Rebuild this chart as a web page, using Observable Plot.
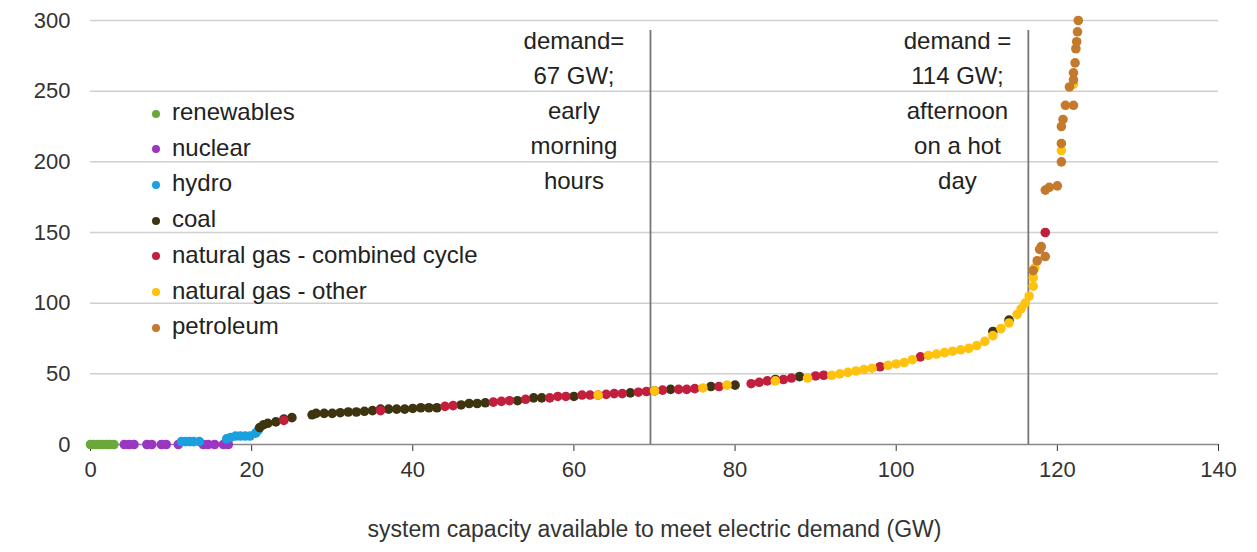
<!DOCTYPE html>
<html><head><meta charset="utf-8">
<script src="https://cdn.jsdelivr.net/npm/d3@7"></script>
<script src="https://cdn.jsdelivr.net/npm/@observablehq/plot@0.6"></script>
<style>
body{margin:0;background:#fff;font-family:"Liberation Sans",Arial,sans-serif}
#wrap{position:relative;width:1257px;height:552px}
#legend{position:absolute;left:152px;top:94px;font-size:24px;color:#222;line-height:35.7px}
#legend span.d{display:inline-block;width:8px;height:8px;border-radius:4px;margin-right:12px;vertical-align:middle}
</style></head>
<body><div id="wrap"><div id="chart"></div><div id="legend"></div></div>
<script>
const fuels = ['renewables','nuclear','hydro','coal','natural gas - combined cycle','natural gas - other','petroleum']
const colors = ['#6aa83c','#9a36c2','#1aa0dc','#3e3410','#c21f3e','#ffc20e','#c47a2c']

const renewables = [[0,0],[0.4,0],[0.8,0],[1.2,0],[1.6,0],[2,0],[2.4,0],[2.9,0]]
const nuclear = [[4.2,0],[4.8,0],[5.4,0],[7,0],[7.6,0],[8.8,0],[9.4,0],[10.9,0],[14,0],[14.6,0],[15.4,0],[16.5,0],[17.1,0]]
const hydro = [[11.3,2],[11.8,2],[12.3,2],[12.8,2],[13.5,2],[16.9,4],[17.4,5],[18,6],[18.6,6],[19.2,6],[19.8,6],[20.5,8],[20.8,10]]
const coal = [[21,12],[21.5,14],[22,15],[23,16],[24,18],[25,19],[27.5,21],[28,22],[29,22],[30,22],[31,22.5],[32,23],[33,23],[34,23.5],[35,24],[36,25],[37,25],[38,25],[39,25],[40,25.5],[41,26],[42,26],[43,26],[46,28],[47,29],[48,29],[49,29.5],[53,31],[55,33],[56,33],[60,34],[67,36.5],[70,38],[72,39],[77,41],[80,42],[85,46],[88,48],[112,80],[114,88]]
const gasCC = [[24,17],[36,24],[44,27],[45,27.5],[50,30],[51,30.5],[52,31],[54,32],[57,33],[58,34],[59,34],[61,35],[62,35],[63,35],[64,35.5],[65,36],[66,36],[68,37],[69,37.5],[71,38.5],[73,39],[74,39],[75,39.5],[78,41],[82,43],[83,44],[84,45],[86,46],[87,47],[90,48.5],[91,49],[98,55],[103,62],[118.5,150]]
const gasOther = [[63,35],[70,38],[76,40],[79,42],[85,45],[89,47],[92,49],[93,50],[94,51],[95,52],[96,53],[97,54],[99,56],[100,57],[101,58],[102,60],[104,63],[105,64],[106,65],[107,66],[108,67],[109,68],[110,70],[111,73],[112,77],[113,82],[114,86],[115,92],[115.5,96],[116,100],[116.5,105],[117,112],[117,118],[117.2,125],[120.5,208],[122,255]]
const petroleum = [[117,123],[117.5,130],[117.8,138],[118,140],[118.5,133],[118.5,180],[119,182],[120,183],[120.5,200],[120.5,213],[120.5,225],[120.7,230],[121,240],[122,240],[121.5,253],[122,258],[122,263],[122.2,270],[122.3,280],[122.4,285],[122.5,292],[122.6,300]]

const series = [renewables, nuclear, hydro, coal, gasCC, gasOther, petroleum]
const points = series.flatMap((s, i) => s.map(([x, y]) => ({x, y, fuel: fuels[i]})))

const demandX = [69.5, 116.4]
const notes = [
  {x: 60, text: 'demand=\n67 GW;\nearly\nmorning\nhours'},
  {x: 107.6, text: 'demand =\n114 GW;\nafternoon\non a hot\nday'}
]

const chart = Plot.plot({
  width: 1257, height: 552,
  marginLeft: 90, marginRight: 39, marginTop: 20, marginBottom: 108,
  style: {fontFamily: '"Liberation Sans", Arial, sans-serif', fontSize: '22px', color: '#333', background: '#fff'},
  x: {domain: [0, 140], ticks: d3.range(0, 141, 20), tickSize: 7, tickPadding: 10,
      label: 'system capacity available to meet electric demand (GW)', labelAnchor: 'center', labelArrow: 'none', labelOffset: 92},
  y: {domain: [0, 300], ticks: d3.range(0, 301, 50), tickSize: 0, tickPadding: 20, label: null},
  color: {domain: fuels, range: colors},
  marks: [
    Plot.gridY(d3.range(50, 301, 50), {stroke: '#d0d0d0', strokeOpacity: 1, strokeWidth: 1.5}),
    Plot.ruleY([0], {stroke: '#888', strokeWidth: 1.5}),
    Plot.ruleX(demandX, {y1: 0, y2: 293, stroke: '#777', strokeWidth: 1.8}),
    Plot.text(notes, {x: 'x', y: 297, text: 'text', lineAnchor: 'top', lineHeight: 1.45, fontSize: 24, fill: '#222'}),
    Plot.dot(points, {x: 'x', y: 'y', fill: 'fuel', r: 4.8})
  ]
})
d3.select('#chart').append(() => chart)
d3.select(chart).selectAll('[aria-label="x-axis label"] text').style('font-size', '23px')

const lg = d3.select('#legend')
fuels.forEach((f, i) => {
  const row = lg.append('div')
  row.append('span').attr('class', 'd').style('background', colors[i])
  row.append('span').text(f)
})
</script></body></html>
